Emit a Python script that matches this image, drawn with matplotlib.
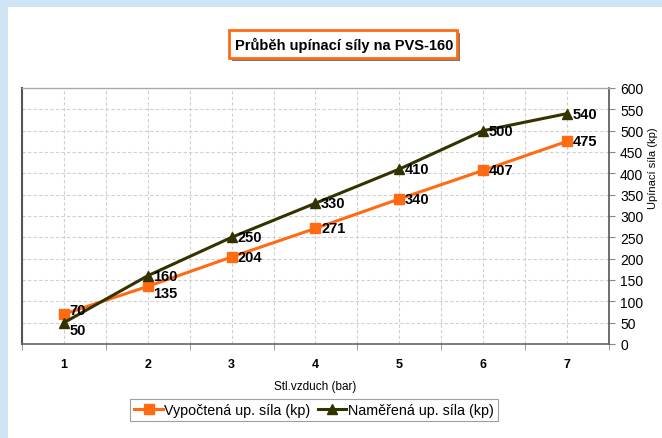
import matplotlib
matplotlib.use("Agg")
import matplotlib.pyplot as plt
from matplotlib.patches import Rectangle

plt.rcParams["font.family"] = ["Liberation Sans", "DejaVu Sans"]

# data
pressure = [1, 2, 3, 4, 5, 6, 7]
calc_force = [70, 135, 204, 271, 340, 407, 475]
meas_force = [50, 160, 250, 330, 410, 500, 540]

CALC_LABEL = "Vypočtená up. síla (kp)"
MEAS_LABEL = "Naměřená up. síla (kp)"
TITLE = "Průběh upínací síly na PVS-160"

ORANGE = "#ff6a13"
OLIVE = "#333300"

# vertical nudges (points) for crowded labels
calc_dy = [3, -5, 0, 0, 0, 0, 0]
meas_dy = [-5, 0, 0, 0, 0, 0, 0]

W, H = 662, 439
fig = plt.figure(figsize=(W / 100, H / 100), dpi=100, facecolor="#cfe5f6")
# white slide panel
fig.add_artist(Rectangle((8 / W, 0), 1, (H - 8) / H, transform=fig.transFigure,
                         facecolor="white", edgecolor="none", zorder=0))

ax = fig.add_axes([22 / W, (H - 345) / H, (609 - 22) / W, (345 - 89) / H])
ax.set_facecolor("white")

ax.plot(pressure, calc_force, color=ORANGE, lw=2.2, marker="s", ms=6.5,
        label=CALC_LABEL, zorder=3, clip_on=False)
ax.plot(pressure, meas_force, color=OLIVE, lw=2.2, marker="^", ms=7.5,
        label=MEAS_LABEL, zorder=4, clip_on=False)

for x, y, dy in zip(pressure, calc_force, calc_dy):
    ax.annotate(str(y), (x, y), xytext=(4, dy), textcoords="offset points",
                ha="left", va="center", fontsize=10.5, fontweight="bold", zorder=5)
for x, y, dy in zip(pressure, meas_force, meas_dy):
    ax.annotate(str(y), (x, y), xytext=(4, dy), textcoords="offset points",
                ha="left", va="center", fontsize=10.5, fontweight="bold", zorder=5)

ax.set_xlim(0.5, 7.5)
ax.set_ylim(0, 600)
ax.set_yticks(range(0, 601, 50))
ax.set_xticks(pressure)
ax.set_xticks([p + 0.5 for p in [0] + pressure], minor=True)
ax.tick_params(axis="x", which="major", length=0, pad=10, labelsize=9)
for t in ax.get_xticklabels():
    t.set_fontweight("bold")
ax.tick_params(axis="x", which="minor", length=4, color="#888888", direction="out")
ax.yaxis.tick_right()
ax.yaxis.set_label_position("right")
ax.tick_params(axis="y", length=4, color="#888888", labelsize=10, pad=4)

ax.grid(True, which="both", axis="x", color="#d0d0d0", ls=(0, (3, 2)), lw=0.8)
ax.grid(True, which="major", axis="y", color="#d0d0d0", ls=(0, (3, 2)), lw=0.8)
ax.set_axisbelow(True)

ax.spines["left"].set_color("#555555")
ax.spines["left"].set_linewidth(1.5)
ax.spines["bottom"].set_color("#666666")
ax.spines["bottom"].set_linewidth(1.2)
ax.spines["right"].set_color("#555555")
ax.spines["right"].set_linewidth(1.2)
ax.spines["top"].set_color("#aaaaaa")
ax.spines["top"].set_linewidth(1.0)

ax.set_xlabel("Stl.vzduch (bar)", fontsize=8.5, labelpad=7)
ax.set_ylabel("Upínací síla (kp)", fontsize=8)
ax.yaxis.set_label_coords(1.066, 0.69)

# title box with shadow
fig.add_artist(Rectangle((232 / W, 1 - 62 / H), 228 / W, 28 / H, transform=fig.transFigure,
                         facecolor="#777777", edgecolor="none", zorder=1))
fig.add_artist(Rectangle((229 / W, 1 - 59 / H), 228 / W, 28 / H, transform=fig.transFigure,
                         facecolor="white", edgecolor=ORANGE, lw=2, zorder=2))
fig.text(344 / W, 1 - 45 / H, TITLE, ha="center", va="center",
         fontsize=10.5, fontweight="bold", zorder=3)

leg = ax.legend(loc="center", bbox_to_anchor=(314 / W, 1 - 411 / H),
                bbox_transform=fig.transFigure, ncol=2, frameon=True, fancybox=False,
                edgecolor="#888888", fontsize=10.3, handlelength=2.0, handletextpad=0.1,
                columnspacing=0.5, borderpad=0.3, borderaxespad=0)
leg.get_frame().set_linewidth(0.8)

fig.savefig("out.png", dpi=100, facecolor=fig.get_facecolor())
